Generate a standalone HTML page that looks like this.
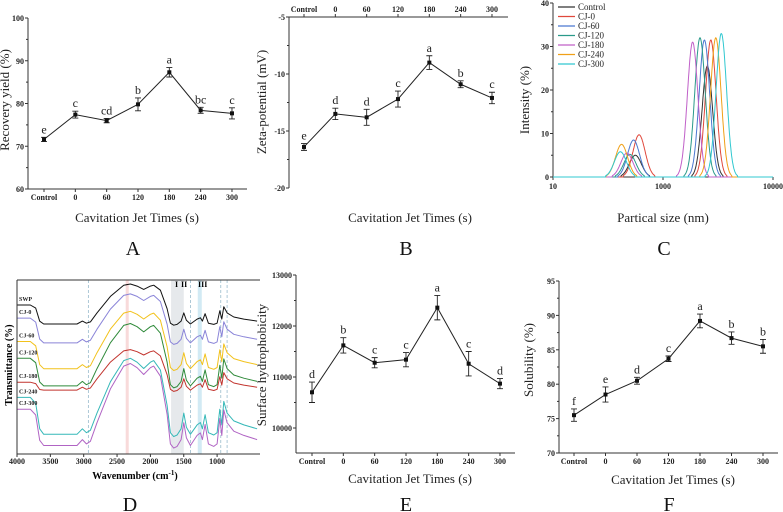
<!DOCTYPE html>
<html><head><meta charset="utf-8">
<style>
html,body{margin:0;padding:0;background:#fff}
svg{display:block;font-family:"Liberation Serif",serif}
.tk{font-size:8px;font-weight:bold;fill:#222}
.ttl{font-size:13px;fill:#222}
.lt{font-size:12px;fill:#222}
.pl{font-size:20px;fill:#111}
</style></head>
<body>
<svg id="fig" width="783" height="512" viewBox="0 0 783 512"></svg>
<script>
// ---------- data ----------
const categories = ["Control","0","60","120","180","240","300"];
const recoveryValues = [71.6,77.4,76.0,79.8,87.3,78.4,77.7];
const recoveryErrors = [0.5,0.8,0.5,1.5,1.1,0.7,1.3];
const recoveryLetters = ["e","c","cd","b","a","bc","c"];
const zetaValues = [-16.4,-13.5,-13.8,-12.2,-9.0,-10.9,-12.1];
const zetaErrors = [0.3,0.5,0.7,0.7,0.6,0.3,0.5];
const zetaLetters = ["e","d","d","c","a","b","c"];
const hydroValues = [10700,11620,11280,11340,12360,11260,10870];
const hydroErrors = [200,150,100,140,240,240,100];
const hydroLetters = ["d","b","c","c","a","c","d"];
const solValues = [75.5,78.5,80.5,83.7,89.2,86.7,85.5];
const solErrors = [0.9,1.1,0.5,0.4,1.0,0.9,1.0];
const solLetters = ["f","e","d","c","a","b","b"];
// particle size distribution
const psdSeries = ["Control","CJ-0","CJ-60","CJ-120","CJ-180","CJ-240","CJ-300"];
const psdColors = ["#333333","#e0483c","#4a78d0","#2a9a8a","#c060c8","#f0a018","#30c8d0"];
const psdSmallSize = [56,60.6,54,50,47,42,41];
const psdSmallHeight = [5.0,9.7,8.5,5.2,5.5,7.5,5.8];
const psdLargeSize = [253,272,238,217,186,302,339];
const psdLargeHeight = [25.5,31.5,31.5,32,31,32,33];
const psdTickValues = [10,100,1000];
const psdTickLabels = ["10","1000","10000"];
// FTIR
const ftirSeries = ["SWP","CJ-0","CJ-60","CJ-120","CJ-180","CJ-240","CJ-300"];
const ftirColors = ["#111111","#8a84d8","#f2c21c","#2f8a3a","#c2342e","#35b8b8","#b064c4"];
const ftirBottom = [74,63,48,38,36,10,3.4];
const ftirPeak = [97.7,92,82,75,60,55,52];
const ftirLeft = [0.49,0.52,0.49,0.46,0.22,0.5,0.46];
const ftirWave = [4000,3800,3720,3660,3600,3100,3020,2960,2900,2800,2600,2400,2300,2200,2100,2000,1950,1850,1750,1700,1650,1600,1540,1500,1460,1400,1300,1250,1220,1180,1130,1050,1000,960,930,900,850,750,600,400];
const ftirShape = [1,1,0.85,0.2,0.03,0.03,0.1,0.05,0.08,0.3,0.7,0.97,1.0,0.95,0.87,0.95,0.97,0.85,0.4,0.05,0.0,0.02,0.1,0.3,0.12,0.03,0.15,0.18,0.1,0.28,0.05,0.02,0.05,0.35,0.15,0.45,0.3,0.2,0.15,0.1];

// ---------- helpers ----------
const NS="http://www.w3.org/2000/svg";
const svg=document.getElementById('fig');
function mk(tag,attrs,parent,text){const e=document.createElementNS(NS,tag);for(const k in attrs)e.setAttribute(k,attrs[k]);if(text!==undefined)e.textContent=text;(parent||svg).appendChild(e);return e;}
function grp(name){const g=mk('g',{});return g;}

function linePanel(p){
  const g=grp(p.name);
  const ys=v=>p.y0px+(v-p.y0)*(p.y1px-p.y0px)/(p.y1-p.y0);
  const xs=i=>p.x0+i*p.dx;
  const ya=mk('line',{x1:p.ax,y1:p.top,x2:p.ax,y2:p.bottom,stroke:'#333','stroke-width':1},g);
  
  for(let v=p.ymin;v<=p.ymax+1e-9;v+=p.ystep){
    const y=ys(v);
    mk('line',{x1:p.ax-3,y1:y,x2:p.ax,y2:y,stroke:'#333'},g);
    const t=mk('text',{x:p.ax-4,y:y+3,'text-anchor':'end',class:'tk'},g,String(v));
    
    const ym=ys(v+p.ystep/2);
    if(v+p.ystep/2<=p.ymax) mk('line',{x1:p.ax-2,y1:ym,x2:p.ax,y2:ym,stroke:'#333'},g);
  }
  const xaY=p.topAxis?p.top:p.bottom;
  const xa=mk('line',{x1:p.ax,y1:xaY,x2:p.right,y2:xaY,stroke:'#333'},g);
  
  categories.forEach((c,i)=>{
    const x=xs(i);
    mk('line',{x1:x,y1:xaY,x2:x,y2:p.topAxis?xaY-3:xaY+3,stroke:'#333'},g);
    const t=mk('text',{x:x,y:p.topAxis?xaY-5:xaY+11,'text-anchor':'middle',class:'tk'},g,c);
    
  });
  const vals=p.values;
  const pts=vals.map((v,i)=>xs(i)+','+ys(v)).join(' ');
  const pl=mk('polyline',{points:pts,fill:'none',stroke:'#222','stroke-width':1},g);
  
  vals.forEach((v,i)=>{
    const x=xs(i),e=p.errors[i];
    const eb=mk('path',{d:`M${x},${ys(v+e)}V${ys(v-e)}M${x-3},${ys(v+e)}h6M${x-3},${ys(v-e)}h6`,stroke:'#222',fill:'none','stroke-width':0.9},g);
    
    const m=mk('rect',{x:x-2,y:ys(v)-2,width:4,height:4,fill:'#111'},g);
    
    const l=mk('text',{x:x,y:ys(v+e)-4,'text-anchor':'middle',class:'lt'},g,p.letters[i]);
    
  });
  const yt=mk('text',{x:p.ytx,y:p.yty,'text-anchor':'middle',class:'ttl',transform:`rotate(-90 ${p.ytx} ${p.yty})`},g,p.ytitle);
  
  const xt=mk('text',{x:p.xtx,y:p.xty,'text-anchor':'middle',class:'ttl'},g,'Cavitation Jet Times (s)');
  
  const pl2=mk('text',{x:p.xtx-4,y:p.ly,'text-anchor':'middle',class:'pl'},g,p.label);
  
}

linePanel({name:'panel-a-recovery',values:recoveryValues,errors:recoveryErrors,letters:recoveryLetters,
 y0:60,y1:100,y0px:189,y1px:18,ymin:60,ymax:100,ystep:10,ax:28,top:18,bottom:189,right:247,x0:44,dx:31.33,
 ytitle:'Recovery yield (%)',ytx:9,yty:100,xtx:137,xty:222,label:'A',ly:255});
linePanel({name:'panel-b-zeta',values:zetaValues,errors:zetaErrors,letters:zetaLetters,topAxis:true,
 y0:-20,y1:-5,y0px:188,y1px:17,ymin:-20,ymax:-5,ystep:5,ax:289,top:17,bottom:188,right:508,x0:304,dx:31.33,
 ytitle:'Zeta-potential (mV)',ytx:266,yty:102,xtx:410,xty:222,label:'B',ly:255});
linePanel({name:'panel-e-hydrophobicity',values:hydroValues,errors:hydroErrors,letters:hydroLetters,
 y0:10000,y1:13000,y0px:428,y1px:275,ymin:10000,ymax:13000,ystep:1000,ax:296,top:275,bottom:453,right:515,x0:312,dx:31.33,
 ytitle:'Surface hydrophobicity',ytx:266,yty:365,xtx:410,xty:483,label:'E',ly:511});
linePanel({name:'panel-f-solubility',values:solValues,errors:solErrors,letters:solLetters,
 y0:70,y1:95,y0px:453,y1px:281,ymin:70,ymax:95,ystep:5,ax:559,top:281,bottom:453,right:778,x0:574,dx:31.5,
 ytitle:'Solubility (%)',ytx:533,yty:360,xtx:673,xty:484,label:'F',ly:511});

// ---------- C: particle size ----------
(function(){
  const g=grp('panel-c-size-distribution');
  const ax=553,top=3,bottom=177,right=773;
  const xs=s=>ax+(Math.log10(s)-1)*110;
  const ys=v=>bottom-v*(bottom-top)/40;
  mk('line',{x1:ax,y1:top,x2:ax,y2:bottom,stroke:'#333'},g);
  mk('line',{x1:ax,y1:bottom,x2:right,y2:bottom,stroke:'#333'},g);
  for(let v=0;v<=40;v+=10){
    mk('line',{x1:ax-3,y1:ys(v),x2:ax,y2:ys(v),stroke:'#333'},g);
    if(v<40)mk('line',{x1:ax-2,y1:ys(v+5),x2:ax,y2:ys(v+5),stroke:'#333'},g);
    const t=mk('text',{x:ax-4,y:ys(v)+3,'text-anchor':'end',class:'tk'},g,String(v));
    
  }
  psdTickValues.forEach((v,i)=>{
    mk('line',{x1:xs(v),y1:bottom,x2:xs(v),y2:bottom+3,stroke:'#333'},g);
    const t=mk('text',{x:xs(v),y:bottom+12,'text-anchor':'middle',class:'tk'},g,psdTickLabels[i]);
    
  });
  psdSeries.forEach((name,k)=>{
    let d='';
    for(let L=1;L<=3.0001;L+=0.004){
      const s=Math.pow(10,L);
      const a=Math.log10(psdSmallSize[k]),b=Math.log10(psdLargeSize[k]);
      let v=psdSmallHeight[k]*Math.exp(-Math.pow((L-a)/0.055,2)/2)+psdLargeHeight[k]*Math.exp(-Math.pow((L-b)/0.048,2)/2);
      if(v<0.3)v=0;
      d+=(d?'L':'M')+xs(s).toFixed(1)+','+ys(v).toFixed(1);
    }
    const p=mk('path',{d:d,fill:'none',stroke:psdColors[k],'stroke-width':1},g);
    
    const ly=7+k*9.5;
    const le=mk('g',{},g);
    
    mk('line',{x1:558,y1:ly,x2:575,y2:ly,stroke:psdColors[k],'stroke-width':1.2},le);
    mk('text',{x:578,y:ly+3,style:'font-size:9px;fill:#222'},le,name);
  });
  const yt=mk('text',{x:529,y:100,'text-anchor':'middle',class:'ttl',transform:'rotate(-90 529 100)'},g,'Intensity (%)');
  
  const xt=mk('text',{x:663,y:222,'text-anchor':'middle',class:'ttl'},g,'Partical size (nm)');
  
  const l=mk('text',{x:664,y:255,'text-anchor':'middle',class:'pl'},g,'C');
  
})();

// ---------- D: FTIR ----------
(function(){
  const g=grp('panel-d-ftir');
  const left=17,right=260,top=280,bottom=454;
  const xs=w=>left+(4000-w)*0.0667;
  const ys=v=>bottom-v*(bottom-top)/100;
  mk('rect',{x:xs(1690),y:top,width:xs(1500)-xs(1690),height:bottom-top,fill:'#e6e9ec'},g);
  mk('rect',{x:xs(1290),y:top,width:xs(1230)-xs(1290),height:bottom-top,fill:'#d2eaf4'},g);
  mk('rect',{x:xs(2370),y:top,width:3,height:bottom-top,fill:'#f8dada'},g);
  [2930,1400,945,850].forEach(w=>mk('line',{x1:xs(w),y1:top,x2:xs(w),y2:bottom,stroke:'#9bc','stroke-dasharray':'3,2','stroke-width':0.8},g));
  mk('text',{x:175,y:287,style:'font-size:8px;font-weight:bold'},g,'I');
  mk('text',{x:181,y:287,style:'font-size:8px;font-weight:bold'},g,'II');
  mk('text',{x:198,y:287,style:'font-size:8px;font-weight:bold'},g,'III');
  ftirSeries.forEach((name,k)=>{
    const b=ftirBottom[k],p=ftirPeak[k];
    let d='';
    ftirWave.forEach((w,i)=>{
      let t=ftirShape[i];
      if(w>=3660)t=t*ftirLeft[k];
      d+=(i?'L':'M')+xs(w).toFixed(1)+','+ys(b+t*(p-b)).toFixed(1);
    });
    const pa=mk('path',{d:d,fill:'none',stroke:ftirColors[k],'stroke-width':1,'stroke-linejoin':'round'},g);
    
    const lt=mk('text',{x:19,y:ys(b+ftirLeft[k]*(p-b))-4,style:'font-size:6px;font-weight:bold;fill:#222'},g,name);
    
  });
  mk('line',{x1:left,y1:top,x2:left,y2:bottom,stroke:'#333'},g);
  mk('line',{x1:left,y1:bottom,x2:right,y2:bottom,stroke:'#333'},g);
  mk('line',{x1:left,y1:top,x2:right,y2:top,stroke:'#333'},g);
  [4000,3500,3000,2500,2000,1500,1000].forEach(w=>{
    mk('line',{x1:xs(w),y1:bottom,x2:xs(w),y2:bottom+3,stroke:'#333'},g);
    const t=mk('text',{x:xs(w),y:bottom+10,'text-anchor':'middle',class:'tk'},g,String(w));
    
  });
  const yt=mk('text',{x:12,y:365,'text-anchor':'middle',transform:'rotate(-90 12 365)',style:'font-size:10px;font-weight:bold'},g,'Transmittance (%)');
  
  const xt=mk('text',{x:135,y:479,'text-anchor':'middle',style:'font-size:10px;font-weight:bold'},g);
  
  xt.innerHTML='Wavenumber (cm<tspan dy="-4" style="font-size:7px">-1</tspan><tspan dy="4">)</tspan>';
  const l=mk('text',{x:130,y:511,'text-anchor':'middle',class:'pl'},g,'D');
  
})();
</script>
</body></html>
